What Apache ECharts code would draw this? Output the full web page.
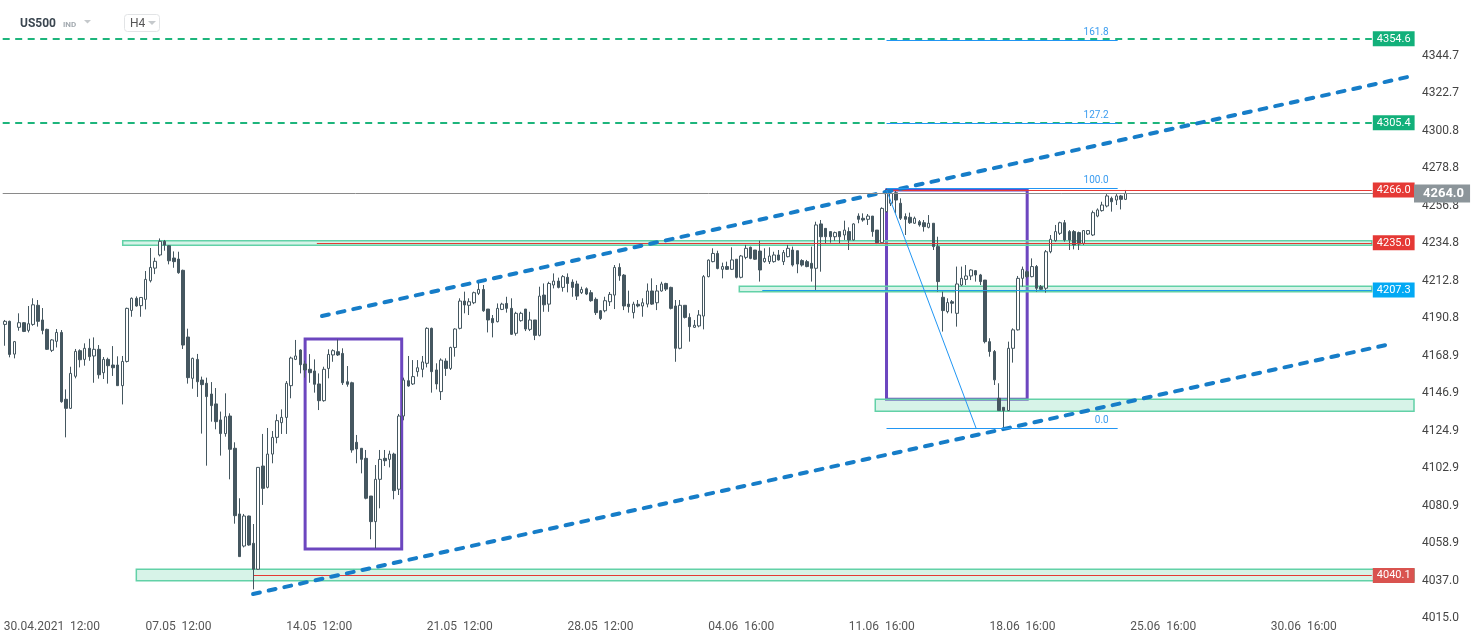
<!DOCTYPE html>
<html>
<head>
<meta charset="utf-8">
<title>US500 H4</title>
<script src="https://cdn.jsdelivr.net/npm/echarts@6/dist/echarts.min.js"></script>
<style>
  html, body { margin: 0; padding: 0; background: #fff; }
  #chart { width: 1482px; height: 643px; }
</style>
</head>
<body>
<div id="chart"></div>
<script>
// H4 candles, bar 1..240
const opens = [
  4187.2, 4189.0, 4169.8, 4185.5, 4188.2, 4183.7, 4187.2, 4198.4, 4189.8, 4184.3,
  4172.0, 4177.3, 4182.5, 4143.3, 4138.0, 4156.8, 4171.8, 4166.7, 4173.2, 4168.7,
  4172.6, 4158.9, 4166.7, 4163.4, 4163.4, 4151.3, 4165.5, 4195.4, 4202.5, 4198.2,
  4201.9, 4212.8, 4220.2, 4227.9, 4235.9, 4233.3, 4226.1, 4225.5, 4218.9, 4179.8,
  4155.6, 4166.7, 4154.6, 4152.7, 4146.4, 4140.6, 4131.2, 4123.2, 4133.5, 4114.6,
  4076.1, 4057.3, 4074.9, 4058.9, 4043.7, 4104.2, 4091.7, 4111.2, 4121.0, 4129.6,
  4132.7, 4151.3, 4166.7, 4172.2, 4164.0, 4160.9, 4159.9, 4152.3, 4142.5, 4161.4,
  4169.3, 4171.2, 4170.2, 4153.6, 4153.0, 4118.1, 4114.6, 4108.7, 4086.6, 4071.6,
  4096.4, 4108.7, 4108.1, 4111.2, 4090.6, 4133.5, 4154.2, 4152.3, 4159.5, 4160.9,
  4164.4, 4184.9, 4160.5, 4147.8, 4165.7, 4161.4, 4173.7, 4184.9, 4200.9, 4198.4,
  4199.9, 4205.4, 4207.7, 4196.2, 4190.7, 4188.8, 4196.0, 4199.5, 4196.6, 4182.0,
  4189.4, 4196.2, 4184.3, 4189.8, 4180.8, 4204.4, 4199.1, 4210.3, 4212.6, 4208.9,
  4214.8, 4212.0, 4210.9, 4205.8, 4208.1, 4205.8, 4201.9, 4195.2, 4195.2, 4200.5,
  4204.4, 4220.6, 4216.1, 4199.1, 4194.1, 4199.0, 4198.0, 4199.1, 4206.8, 4199.9,
  4206.8, 4211.2, 4208.9, 4198.0, 4173.2, 4198.4, 4191.3, 4185.5, 4186.3, 4192.1,
  4215.2, 4224.0, 4228.8, 4219.5, 4221.1, 4219.5, 4225.4, 4214.8, 4226.5, 4232.4,
  4230.8, 4230.2, 4224.0, 4224.0, 4224.0, 4227.9, 4224.0, 4226.9, 4230.8, 4230.4,
  4224.6, 4224.0, 4223.0, 4220.1, 4246.1, 4243.5, 4241.6, 4238.6, 4241.6, 4239.6,
  4241.6, 4236.7, 4250.7, 4249.4, 4248.8, 4250.7, 4242.5, 4235.1, 4253.3, 4258.2,
  4264.4, 4258.2, 4250.4, 4250.0, 4246.5, 4247.4, 4246.8, 4244.1, 4246.5, 4232.8,
  4203.1, 4194.7, 4200.5, 4193.7, 4210.3, 4213.6, 4215.6, 4218.7, 4216.2, 4213.2,
  4177.1, 4171.3, 4143.9, 4138.6, 4136.7, 4173.2, 4184.0, 4214.2, 4218.1, 4215.2,
  4221.1, 4209.3, 4208.4, 4229.8, 4236.3, 4240.6, 4246.8, 4241.6, 4241.6, 4241.0,
  4234.7, 4240.2, 4239.6, 4250.7, 4253.9, 4256.6, 4261.1, 4260.1, 4262.5, 4260.5
];
const highs = [
  4189.8, 4189.4, 4177.5, 4193.7, 4188.6, 4198.0, 4202.5, 4201.5, 4196.8, 4184.7,
  4178.6, 4184.5, 4183.9, 4149.1, 4162.4, 4172.8, 4172.6, 4176.1, 4178.8, 4179.6,
  4175.1, 4168.1, 4167.7, 4174.5, 4168.5, 4168.7, 4197.0, 4203.0, 4203.6, 4203.2,
  4218.5, 4232.0, 4226.3, 4237.6, 4236.7, 4233.7, 4230.0, 4229.8, 4219.3, 4184.7,
  4167.7, 4169.9, 4156.6, 4156.0, 4153.4, 4149.9, 4136.1, 4146.8, 4135.1, 4118.1,
  4085.3, 4076.1, 4075.1, 4070.2, 4103.4, 4123.0, 4126.5, 4124.7, 4134.5, 4137.4,
  4154.0, 4168.3, 4178.1, 4172.6, 4166.0, 4169.8, 4166.7, 4158.5, 4162.4, 4172.6,
  4172.6, 4178.4, 4173.2, 4162.8, 4153.6, 4122.4, 4114.6, 4113.6, 4086.6, 4104.8,
  4113.6, 4113.6, 4113.2, 4112.0, 4134.7, 4156.0, 4168.7, 4166.3, 4166.3, 4168.7,
  4185.5, 4185.3, 4164.4, 4167.3, 4167.3, 4174.1, 4184.9, 4202.5, 4206.4, 4202.5,
  4206.4, 4212.2, 4210.3, 4196.2, 4192.7, 4199.5, 4199.9, 4203.4, 4202.5, 4194.6,
  4194.6, 4196.2, 4194.6, 4189.8, 4209.3, 4211.2, 4212.2, 4217.1, 4214.6, 4216.1,
  4217.1, 4213.6, 4212.8, 4209.3, 4208.9, 4207.3, 4203.0, 4195.6, 4203.4, 4206.2,
  4222.0, 4223.0, 4216.7, 4207.0, 4200.5, 4201.5, 4202.5, 4211.2, 4214.2, 4210.3,
  4212.2, 4211.6, 4209.3, 4201.5, 4201.5, 4198.4, 4193.7, 4189.8, 4195.6, 4216.1,
  4225.3, 4231.8, 4230.4, 4223.4, 4224.0, 4232.4, 4225.4, 4227.9, 4233.8, 4232.8,
  4230.8, 4236.3, 4231.8, 4232.4, 4229.8, 4230.8, 4230.8, 4233.8, 4232.8, 4230.4,
  4225.4, 4225.0, 4232.8, 4247.4, 4248.4, 4243.5, 4241.6, 4241.6, 4241.6, 4248.0,
  4244.1, 4246.5, 4252.3, 4252.3, 4251.9, 4250.7, 4242.5, 4255.8, 4267.0, 4266.0,
  4266.0, 4261.1, 4252.3, 4252.7, 4250.4, 4248.4, 4248.4, 4251.3, 4246.5, 4238.6,
  4206.4, 4202.5, 4201.5, 4221.1, 4221.1, 4222.0, 4219.5, 4219.1, 4216.8, 4213.2,
  4179.1, 4172.2, 4152.7, 4138.6, 4177.1, 4184.9, 4215.6, 4221.1, 4219.1, 4225.9,
  4222.0, 4210.3, 4230.8, 4239.6, 4245.5, 4247.4, 4248.4, 4242.5, 4242.5, 4241.6,
  4242.5, 4242.5, 4253.9, 4255.2, 4259.1, 4263.6, 4262.1, 4263.6, 4263.1, 4266.0
];
const lows = [
  4174.7, 4167.9, 4167.3, 4183.5, 4182.7, 4182.5, 4186.4, 4185.9, 4181.4, 4172.2,
  4171.0, 4173.7, 4141.3, 4121.0, 4137.6, 4155.6, 4162.0, 4163.0, 4165.9, 4153.0,
  4155.4, 4155.2, 4152.5, 4157.0, 4151.3, 4140.3, 4164.9, 4191.7, 4197.6, 4191.7,
  4196.0, 4211.8, 4216.7, 4227.1, 4230.4, 4222.4, 4220.4, 4216.9, 4172.8, 4152.5,
  4149.5, 4144.7, 4123.2, 4104.4, 4130.2, 4125.7, 4110.3, 4121.4, 4096.4, 4070.4,
  4051.1, 4056.5, 4057.5, 4031.9, 4043.3, 4081.4, 4091.1, 4105.8, 4117.5, 4123.0,
  4123.0, 4143.9, 4166.3, 4158.5, 4156.0, 4153.0, 4147.2, 4137.0, 4141.9, 4155.6,
  4165.3, 4168.7, 4151.7, 4150.7, 4112.0, 4105.8, 4099.9, 4084.7, 4061.3, 4056.0,
  4079.4, 4104.2, 4103.4, 4084.7, 4087.2, 4131.0, 4150.7, 4151.7, 4156.6, 4156.2,
  4162.0, 4147.2, 4149.1, 4142.9, 4157.0, 4160.5, 4168.3, 4184.3, 4193.7, 4192.7,
  4199.1, 4204.4, 4194.6, 4182.5, 4179.6, 4188.4, 4195.6, 4194.1, 4181.0, 4180.6,
  4188.8, 4183.3, 4183.3, 4178.0, 4180.2, 4194.6, 4194.6, 4208.3, 4208.3, 4206.4,
  4206.0, 4203.4, 4201.5, 4205.0, 4204.4, 4200.5, 4192.7, 4189.8, 4194.3, 4198.0,
  4196.2, 4212.8, 4195.6, 4194.1, 4190.7, 4197.2, 4191.7, 4197.2, 4198.6, 4195.6,
  4206.4, 4206.8, 4196.0, 4165.3, 4172.6, 4190.7, 4177.1, 4185.1, 4185.5, 4184.3,
  4214.8, 4223.6, 4219.5, 4214.2, 4219.1, 4219.1, 4214.2, 4214.2, 4225.4, 4225.4,
  4225.0, 4212.3, 4223.4, 4222.6, 4223.4, 4224.6, 4222.0, 4226.5, 4221.1, 4217.2,
  4221.1, 4220.7, 4212.3, 4207.4, 4218.1, 4234.3, 4235.1, 4236.3, 4234.7, 4236.7,
  4230.8, 4236.3, 4246.5, 4247.4, 4245.5, 4238.6, 4234.3, 4234.7, 4252.7, 4256.6,
  4252.3, 4248.4, 4239.6, 4246.1, 4246.1, 4244.5, 4241.6, 4243.5, 4230.8, 4206.4,
  4183.0, 4193.7, 4193.7, 4185.9, 4209.7, 4210.3, 4213.2, 4212.3, 4210.3, 4176.1,
  4168.3, 4151.7, 4136.7, 4126.3, 4136.5, 4164.8, 4183.6, 4209.3, 4214.2, 4214.8,
  4206.4, 4207.4, 4205.8, 4228.9, 4235.7, 4239.6, 4235.7, 4230.8, 4231.2, 4230.8,
  4233.8, 4239.6, 4239.0, 4250.0, 4253.3, 4255.8, 4253.3, 4257.2, 4254.6, 4260.1
];
const closes = [
  4189.0, 4169.6, 4177.1, 4188.2, 4183.1, 4187.6, 4198.7, 4189.0, 4183.7, 4172.6,
  4178.1, 4182.5, 4141.9, 4138.0, 4158.5, 4171.4, 4166.5, 4173.2, 4168.3, 4172.6,
  4157.7, 4166.7, 4163.0, 4161.8, 4151.3, 4165.5, 4196.6, 4202.5, 4198.0, 4203.0,
  4213.6, 4220.6, 4224.2, 4235.9, 4233.7, 4224.5, 4224.0, 4217.5, 4175.1, 4156.0,
  4167.3, 4153.6, 4151.9, 4144.9, 4139.6, 4130.2, 4123.2, 4133.1, 4114.0, 4075.1,
  4051.1, 4074.9, 4057.9, 4043.7, 4103.4, 4091.1, 4111.2, 4121.0, 4130.8, 4132.7,
  4152.7, 4167.5, 4168.7, 4163.6, 4160.5, 4158.9, 4152.1, 4142.5, 4160.9, 4169.6,
  4171.8, 4169.3, 4153.0, 4152.1, 4113.6, 4114.2, 4108.1, 4085.3, 4071.6, 4096.4,
  4108.1, 4107.3, 4111.2, 4089.8, 4133.5, 4154.6, 4151.1, 4156.6, 4161.8, 4165.2,
  4184.9, 4159.5, 4152.3, 4166.3, 4161.4, 4173.7, 4184.5, 4200.9, 4198.6, 4200.5,
  4205.8, 4207.7, 4195.2, 4189.8, 4188.2, 4196.6, 4199.1, 4196.6, 4181.4, 4193.7,
  4193.7, 4184.5, 4189.8, 4180.8, 4203.8, 4198.7, 4211.2, 4212.6, 4208.9, 4215.2,
  4211.2, 4208.9, 4203.8, 4207.7, 4205.0, 4201.1, 4194.1, 4190.7, 4201.1, 4204.8,
  4220.6, 4215.7, 4198.0, 4197.6, 4199.1, 4198.0, 4199.9, 4206.8, 4199.1, 4206.8,
  4210.9, 4207.9, 4196.6, 4173.2, 4198.4, 4191.3, 4185.9, 4186.7, 4192.7, 4215.2,
  4224.9, 4228.8, 4220.0, 4221.1, 4219.5, 4225.0, 4214.8, 4227.3, 4231.8, 4225.9,
  4225.4, 4219.1, 4225.9, 4227.3, 4227.9, 4225.0, 4229.3, 4231.8, 4222.0, 4222.6,
  4222.0, 4221.1, 4220.1, 4245.5, 4238.6, 4238.6, 4238.6, 4241.0, 4238.6, 4242.5,
  4236.7, 4246.1, 4248.8, 4248.4, 4250.7, 4241.6, 4235.1, 4255.2, 4265.0, 4264.0,
  4260.1, 4249.4, 4248.8, 4246.8, 4249.4, 4245.5, 4244.5, 4246.5, 4232.8, 4212.3,
  4195.3, 4200.0, 4199.6, 4210.9, 4214.2, 4215.6, 4219.1, 4216.2, 4212.3, 4177.1,
  4171.3, 4154.7, 4136.7, 4136.7, 4173.2, 4184.0, 4214.2, 4219.5, 4215.2, 4221.1,
  4208.4, 4207.8, 4229.8, 4237.1, 4241.6, 4246.8, 4236.7, 4236.7, 4233.8, 4234.3,
  4242.2, 4242.2, 4252.7, 4254.3, 4257.2, 4262.5, 4259.1, 4262.5, 4260.5, 4264.0
];

// axis
const slotCount = 301; // bar slots incl. empty space on the right
const xTickBars = [11, 38, 68, 98, 128, 158, 188, 218, 248, 278];
const xTickTexts = ['30.04.2021  12:00', '07.05  12:00', '14.05  12:00', '21.05  12:00', '28.05  12:00',
  '04.06  16:00', '11.06  16:00', '18.06  16:00', '25.06  16:00', '30.06  16:00'];
const yTicks = [4344.7, 4322.7, 4300.8, 4278.8, 4256.8, 4234.8, 4212.8, 4190.8, 4168.9,
  4146.9, 4124.9, 4102.9, 4080.9, 4058.9, 4037.0, 4015.0];

// drawings, in bar index / price units
const lastPrice = 4264.0;
const greenLevels = [4354.6, 4305.4];
const redLevels = [4266.0, 4235.0, 4040.1];
const redLevelFrom = [188.6, 67.5, 54.1];
const blueLevel = 4207.3;
const blueLevelFrom = 162.5;
const levelEnd = 292.5;
const zoneFrom = [26.1, 157.6, 186.6, 29.0];
const zoneTo = [292.5, 292.5, 301.5, 301.5];
const zoneLow = [4233.6, 4206.4, 4136.3, 4037.0];
const zoneHigh = [4236.3, 4209.6, 4143.3, 4043.7];
const boxFrom = [65.0, 189.0];
const boxTo = [85.6, 219.0];
const boxLow = [4055.5, 4143.3];
const boxHigh = [4178.6, 4266.0];
const channelUpper = [[68.6, 4192.1], [301.1, 4332.8]];
const channelLower = [[53.9, 4029.2], [295.5, 4175.1]];
const fibNames = ['161.8', '127.2', '100.0', '0.0'];
const fibPrices = [4353.6, 4305.0, 4266.8, 4126.4];
const fibFrom = 189.0;
const fibTo = 238.3;
const fibDiagonal = [[189.0, 4266.0], [208.1, 4126.4]];

const candleColor = '#455760';
const categories = [];
for (let i = 1; i <= slotCount; i++) categories.push(String(i));
const tickText = {};
xTickBars.forEach((b, i) => { tickText[String(b)] = xTickTexts[i]; });

const candles = opens.map((o, i) => [o, closes[i], lows[i], highs[i]]);

function seg(x1, y1, x2, y2, lineStyle, label) {
  return [{ coord: [x1, y1], lineStyle: lineStyle, label: label || { show: false } }, { coord: [x2, y2] }];
}
function tag(text, bg) {
  return {
    show: true, position: 'end', distance: 1, formatter: text,
    color: '#fff', backgroundColor: bg, fontSize: 11, lineHeight: 12,
    padding: [2, 4, 1, 4], fontFamily: 'Roboto'
  };
}

const levelLines = [];
greenLevels.forEach((p) => {
  levelLines.push(seg(0.5, p, levelEnd, p, { color: '#1db57c', width: 2, type: [7, 5.5] }, tag(p.toFixed(1), '#12b07a')));
});
const redTagColors = ['#e53935', '#e53935', '#d9534f'];
redLevels.forEach((p, i) => {
  levelLines.push(seg(redLevelFrom[i], p, levelEnd, p, { color: '#e53935', width: 1.2, type: 'solid' }, tag(p.toFixed(1), redTagColors[i])));
});
levelLines.push(seg(blueLevelFrom, blueLevel, levelEnd, blueLevel, { color: '#1e9be8', width: 1.2, type: 'solid' }, tag(blueLevel.toFixed(1), '#03a9f4')));

const zoneAreas = zoneFrom.map((f, i) => [
  { coord: [f, zoneHigh[i]] }, { coord: [zoneTo[i], zoneLow[i]] }
]);
const boxAreas = boxFrom.map((f, i) => [
  { coord: [f, boxHigh[i]], itemStyle: { color: i === 0 ? 'rgba(255,255,255,0.3)' : 'rgba(255,255,255,0)' } },
  { coord: [boxTo[i], boxLow[i]] }
]);

const drawLines = [];
const chanStyle = { color: '#167dc8', width: 4, type: [7, 9], cap: 'round' };
drawLines.push(seg(channelUpper[0][0], channelUpper[0][1], channelUpper[1][0], channelUpper[1][1], chanStyle));
drawLines.push(seg(channelLower[0][0], channelLower[0][1], channelLower[1][0], channelLower[1][1], chanStyle));
fibPrices.forEach((p, i) => {
  drawLines.push(seg(fibFrom, p, fibTo, p, { color: '#2196f3', width: 1, type: 'solid' }, {
    show: true, position: 'insideEndTop', distance: [9, 3], formatter: fibNames[i],
    color: '#3a9cf0', fontSize: 10, fontFamily: 'Roboto'
  }));
});
drawLines.push(seg(fibDiagonal[0][0], fibDiagonal[0][1], fibDiagonal[1][0], fibDiagonal[1][1], { color: '#2196f3', width: 1, type: 'solid' }));

const priceLine = [seg(0.5, lastPrice, 301.5, lastPrice, { color: '#8a8a8a', width: 1, type: 'solid' }, {
  show: true, position: 'end', distance: 0, formatter: lastPrice.toFixed(1),
  color: '#fff', backgroundColor: '#8c959a', fontSize: 13, fontWeight: 'bold',
  padding: [3, 6, 2, 9], fontFamily: 'Roboto'
})];

function helper(z, extra) {
  return Object.assign({
    type: 'line', xAxisIndex: 1, yAxisIndex: 0, z: z,
    data: [[0.5, 4200]], showSymbol: false, symbolSize: 0,
    lineStyle: { opacity: 0 }, silent: true, animation: false
  }, extra);
}
function marks(data) {
  return { symbol: 'none', silent: true, animation: false, label: { show: false }, data: data };
}

const chart = echarts.init(document.getElementById('chart'));
chart.setOption({
  animation: false,
  backgroundColor: '#fff',
  textStyle: { fontFamily: 'Roboto' },
  grid: { left: 2.69, right: 68, top: 0, bottom: 24.8 },
  xAxis: [{
    type: 'category', data: categories, boundaryGap: true,
    axisLine: { show: false }, axisTick: { show: false }, splitLine: { show: false },
    axisLabel: {
      interval: (idx, val) => tickText[val] !== undefined,
      formatter: (val) => tickText[val] || '',
      color: '#555', fontSize: 12, margin: 3
    }
  }, {
    type: 'value', min: 0.5, max: 0.5 + slotCount, show: false
  }],
  yAxis: [{
    type: 'value', position: 'right', min: 4015.0, max: 4377.35, scale: true,
    axisLine: { show: false }, axisTick: { show: false }, splitLine: { show: false },
    axisLabel: { customValues: yTicks, formatter: (v) => v.toFixed(1), color: '#444', fontSize: 12, margin: 8 }
  }],
  series: [
    {
      type: 'candlestick', xAxisIndex: 0, yAxisIndex: 0, z: 2,
      data: candles, barWidth: 3, silent: true,
      itemStyle: { color: '#ffffff', color0: candleColor, borderColor: candleColor, borderColor0: candleColor, borderWidth: 1 }
    },
    helper(3, { markArea: Object.assign(marks(boxAreas), { itemStyle: { color: 'rgba(255,255,255,0)', borderColor: '#6c46bf', borderWidth: 3 } }) }),
    helper(4, { markLine: marks(levelLines) }),
    helper(5, { markArea: Object.assign(marks(zoneAreas), { itemStyle: { color: 'rgba(140,222,190,0.35)', borderColor: '#62d1a7', borderWidth: 1.5 } }) }),
    helper(6, { markLine: marks(drawLines) }),
    helper(7, { markLine: marks(priceLine) })
  ],
  graphic: [
    { type: 'text', left: 20, top: 18, style: { text: 'US500', font: 'bold 12px Roboto', fill: '#3b4650' } },
    { type: 'text', left: 63, top: 21, style: { text: 'IND', font: 'bold 8px Roboto', fill: '#a3aab0' } },
    { type: 'polygon', shape: { points: [[84, 20], [91, 20], [87.5, 23.5]] }, style: { fill: '#c5c9cc' } },
    { type: 'rect', shape: { x: 124.5, y: 14.5, width: 35, height: 17, r: 3 }, style: { fill: '#fff', stroke: '#e2e4e6' } },
    { type: 'text', left: 130, top: 18, style: { text: 'H4', font: '12px Roboto', fill: '#555' } },
    { type: 'polygon', shape: { points: [[148, 21], [156, 21], [152, 25]] }, style: { fill: '#c5c9cc' } }
  ]
});
</script>
</body>
</html>
